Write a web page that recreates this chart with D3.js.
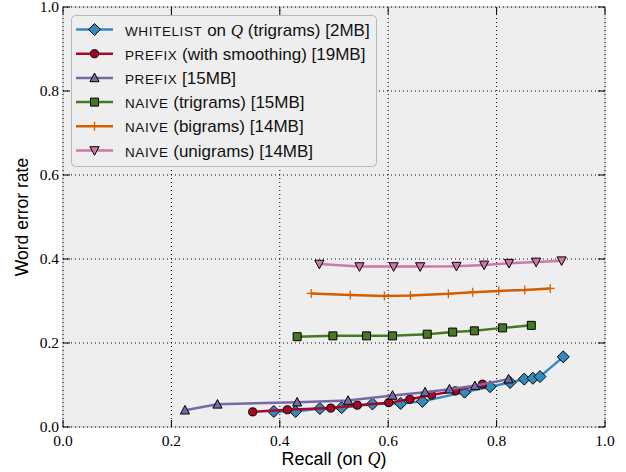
<!DOCTYPE html>
<html>
<head>
<meta charset="utf-8">
<script src="https://cdn.jsdelivr.net/npm/d3@7"></script>
<style>
body{margin:0;background:#fff;}
</style>
</head>
<body>
<script>
var width = 626, height = 472;

// values
var whitelistX = [0.389,0.429,0.474,0.514,0.571,0.623,0.663,0.741,0.788,0.825,0.851,0.867,0.880,0.923];
var whitelistY = [0.037,0.037,0.044,0.046,0.055,0.056,0.061,0.083,0.096,0.106,0.114,0.116,0.120,0.167];
var prefixSmX = [0.350,0.414,0.494,0.543,0.601,0.640,0.680,0.724,0.774];
var prefixSmY = [0.036,0.041,0.045,0.052,0.058,0.066,0.076,0.086,0.102];
var prefixX = [0.225,0.285,0.432,0.526,0.608,0.668,0.713,0.760,0.822];
var prefixY = [0.040,0.054,0.059,0.063,0.075,0.083,0.090,0.098,0.114];
var naiveTriX = [0.432,0.498,0.560,0.608,0.672,0.719,0.759,0.811,0.864];
var naiveTriY = [0.215,0.217,0.217,0.217,0.221,0.226,0.229,0.236,0.242];
var naiveBiX = [0.458,0.530,0.593,0.641,0.711,0.756,0.804,0.852,0.899];
var naiveBiY = [0.318,0.314,0.312,0.313,0.317,0.321,0.324,0.326,0.330];
var naiveUniX = [0.473,0.547,0.610,0.659,0.726,0.777,0.823,0.873,0.920];
var naiveUniY = [0.388,0.382,0.382,0.382,0.383,0.386,0.390,0.393,0.396];

var xTicks = [0.0,0.2,0.4,0.6,0.8,1.0];
var yTicks = [0.0,0.2,0.4,0.6,0.8,1.0];

// label pieces: small caps name, then the rest (Q in italics)
var legendNames = ["WHITELIST","PREFIX","PREFIX","NAIVE","NAIVE","NAIVE"];
var legendRest = [[" on ","Q"," (trigrams) [2MB]"],[" (with smoothing) [19MB]"],[" [15MB]"],
                  [" (trigrams) [15MB]"],[" (bigrams) [14MB]"],[" (unigrams) [14MB]"]];

var series = [
  {x: whitelistX, y: whitelistY, color: "#348ABD", marker: "diamond"},
  {x: prefixSmX, y: prefixSmY, color: "#A60628", marker: "circle"},
  {x: prefixX, y: prefixY, color: "#7A68A6", marker: "triup"},
  {x: naiveTriX, y: naiveTriY, color: "#467821", marker: "square"},
  {x: naiveBiX, y: naiveBiY, color: "#D55E00", marker: "plus"},
  {x: naiveUniX, y: naiveUniY, color: "#CC79A7", marker: "tridown"}
];

var margin = {left: 63, right: 21, top: 7, bottom: 45};
var xScale = d3.scaleLinear().domain([0,1]).range([margin.left, width - margin.right]);
var yScale = d3.scaleLinear().domain([0,1]).range([height - margin.bottom, margin.top]);

var svg = d3.select("body").append("svg")
    .attr("width", width)
    .attr("height", height);

var markerPath = function(type){
    if(type=="diamond") return "M0,-6L6,0L0,6L-6,0Z";
    if(type=="circle") return d3.symbol().type(d3.symbolCircle).size(52)();
    if(type=="triup") return "M0,-4.8L4.6,3.8L-4.6,3.8Z";
    if(type=="tridown") return "M0,4.8L4.6,-3.8L-4.6,-3.8Z";
    if(type=="square") return "M-4,-4H4V4H-4Z";
    if(type=="plus") return "M-4.5,0H4.5M0,-4.5V4.5";
};

var drawMarker = function(g, type, color, px, py){
    var p = g.append("path")
        .attr("d", markerPath(type))
        .attr("transform", "translate(" + px + "," + py + ")");
    if(type=="plus"){
        p.style("fill","none").style("stroke",color).style("stroke-width",1.3);
    }else{
        p.style("fill",color).style("stroke","#000").style("stroke-width",1);
    }
};

// background
var x0 = xScale(0), x1 = xScale(1), y0 = yScale(0), y1 = yScale(1);
svg.append("rect")
   .attr("x", x0).attr("y", y1)
   .attr("width", x1 - x0).attr("height", y0 - y1)
   .style("fill", "#eeeeee")
   .style("stroke", "#bcbcbc")
   .style("stroke-width", 1);

// grid
var grid = svg.append("g");
xTicks.forEach(function(t){
    grid.append("line")
        .attr("x1", xScale(t)).attr("x2", xScale(t))
        .attr("y1", y0).attr("y2", y1)
        .style("stroke","#000").style("stroke-width",1).style("stroke-dasharray","1,3");
});
yTicks.forEach(function(t){
    grid.append("line")
        .attr("x1", x0).attr("x2", x1)
        .attr("y1", yScale(t)).attr("y2", yScale(t))
        .style("stroke","#000").style("stroke-width",1).style("stroke-dasharray","1,3");
});

// ticks pointing inward on all four sides
var tickLen = 7;
xTicks.forEach(function(t){
    svg.append("line").attr("x1", xScale(t)).attr("x2", xScale(t))
       .attr("y1", y0).attr("y2", y0 - tickLen).style("stroke","#000");
    svg.append("line").attr("x1", xScale(t)).attr("x2", xScale(t))
       .attr("y1", y1).attr("y2", y1 + tickLen).style("stroke","#000");
});
yTicks.forEach(function(t){
    svg.append("line").attr("x1", x0).attr("x2", x0 + tickLen)
       .attr("y1", yScale(t)).attr("y2", yScale(t)).style("stroke","#000");
    svg.append("line").attr("x1", x1).attr("x2", x1 - tickLen)
       .attr("y1", yScale(t)).attr("y2", yScale(t)).style("stroke","#000");
});

// tick labels
svg.append("g").selectAll("text").data(xTicks).enter().append("text")
   .attr("x", function(d){ return xScale(d); })
   .attr("y", y0 + 19)
   .attr("text-anchor","middle")
   .style("font-family","'Liberation Serif', serif")
   .style("font-size","15.5px")
   .text(function(d){ return d.toFixed(1); });
svg.append("g").selectAll("text").data(yTicks).enter().append("text")
   .attr("x", x0 - 4)
   .attr("y", function(d){ return yScale(d) + 5; })
   .attr("text-anchor","end")
   .style("font-family","'Liberation Serif', serif")
   .style("font-size","15.5px")
   .text(function(d){ return d.toFixed(1); });

// axis titles
var xt = svg.append("text")
   .attr("x", (x0 + x1)/2)
   .attr("y", 465)
   .attr("text-anchor","middle")
   .style("font-family","'Liberation Sans', Arial, sans-serif")
   .style("font-size","18px");
xt.append("tspan").text("Recall (on ");
xt.append("tspan").style("font-family","'Liberation Serif', serif").style("font-style","italic").text("Q");
xt.append("tspan").text(")");

svg.append("text")
   .attr("transform","translate(28," + ((y0 + y1)/2) + ") rotate(-90)")
   .attr("text-anchor","middle")
   .style("font-family","'Liberation Sans', Arial, sans-serif")
   .style("font-size","17.5px")
   .text("Word error rate");

// series
var plot = svg.append("g");
series.forEach(function(s){
    var pts = d3.range(s.x.length).map(function(i){ return [s.x[i], s.y[i]]; });
    var line = d3.line()
        .x(function(d){ return xScale(d[0]); })
        .y(function(d){ return yScale(d[1]); });
    plot.append("path")
        .datum(pts)
        .attr("d", line)
        .style("fill","none")
        .style("stroke", s.color)
        .style("stroke-width", 2.5)
        .style("stroke-linejoin","round");
    pts.forEach(function(d){
        drawMarker(plot, s.marker, s.color, xScale(d[0]), yScale(d[1]));
    });
});

// legend
var legend = svg.append("g");
legend.append("rect")
    .attr("x", 71.5).attr("y", 15.5)
    .attr("width", 305).attr("height", 151)
    .attr("rx", 4).attr("ry", 4)
    .style("fill","#eeeeee")
    .style("stroke","#b8b8b8")
    .style("stroke-width",1);
series.forEach(function(s, i){
    var cy = 29.5 + i * 24.2;
    legend.append("line")
        .attr("x1", 76).attr("x2", 113)
        .attr("y1", cy).attr("y2", cy)
        .style("stroke", s.color).style("stroke-width", 2.5);
    drawMarker(legend, s.marker, s.color, 94.5, cy);
    var t = legend.append("text")
        .attr("x", 125).attr("y", cy + 6)
        .style("font-family","'Liberation Sans', Arial, sans-serif")
        .style("font-size","17px")
        .style("fill","#111");
    t.append("tspan").style("font-size","13.5px").style("letter-spacing","0.6px").text(legendNames[i]);
    legendRest[i].forEach(function(part){
        var sp = t.append("tspan").text(part);
        if(part=="Q") sp.style("font-family","'Liberation Serif', serif").style("font-style","italic");
    });
});
</script>
</body>
</html>
